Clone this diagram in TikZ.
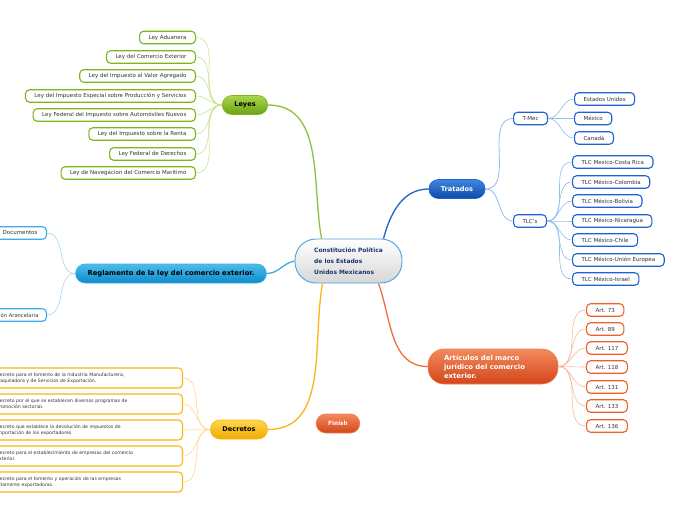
\documentclass[tikz,border=0pt]{standalone}
\usepackage{fontspec}
\setmainfont{DejaVu Sans}
\usepackage{xcolor}
\usetikzlibrary{positioning, calc}

% colours of the branches
\definecolor{leafText}{HTML}{333333}
\definecolor{coreText}{HTML}{1E3566}
\definecolor{coreLine}{HTML}{4DA2DC}
\definecolor{greenTop}{HTML}{A9D54B}
\definecolor{greenBot}{HTML}{6CA212}
\definecolor{greenLine}{HTML}{7DB51E}
\definecolor{greenLink}{HTML}{C9E495}
\definecolor{blueTop}{HTML}{3F85E0}
\definecolor{blueBot}{HTML}{0B4DA8}
\definecolor{blueLine}{HTML}{1F62D0}
\definecolor{blueLink}{HTML}{93BCF0}
\definecolor{redTop}{HTML}{F38A5C}
\definecolor{redBot}{HTML}{D2461A}
\definecolor{redLine}{HTML}{F05F28}
\definecolor{redLink}{HTML}{F9B89D}
\definecolor{cyanTop}{HTML}{4BBDEB}
\definecolor{cyanBot}{HTML}{0E8ACB}
\definecolor{cyanLine}{HTML}{3AAEE6}
\definecolor{cyanLink}{HTML}{9FD8F3}
\definecolor{yellowTop}{HTML}{FFD64F}
\definecolor{yellowBot}{HTML}{F2A900}
\definecolor{yellowLine}{HTML}{FBB515}
\definecolor{yellowLink}{HTML}{FDDA8C}

\tikzset{
    leaf/.style={draw, fill=white, rounded corners=4pt, line width=1.1pt,
        inner xsep=9pt, inner ysep=0pt, minimum height=12.5pt,
        text=leafText, font=\fontsize{5.5}{6.5}\selectfont},
    decreto/.style={leaf, draw=yellowLine, anchor=east, minimum height=20pt,
        text width=177pt, align=left, font=\fontsize{4.6}{6.2}\selectfont},
    branch/.style={draw, rounded corners=9.5pt, line width=0.6pt,
        minimum height=19pt, inner xsep=12pt, inner ysep=0pt,
        font=\bfseries\fontsize{6.6}{8}\selectfont},
    link/.style={line width=0.6pt},
    mainlink/.style={line width=1.3pt}
}

\begin{document}
\begin{tikzpicture}[x=1pt, y=1pt]

    % Page frame
    \fill[white] (0,0) rectangle (696,-520);
    \useasboundingbox (0,0) rectangle (696,-520);
    \clip (0,0) rectangle (696,-520);

    % Central topic
    \node[draw=coreLine, line width=0.9pt, rounded corners=21pt,
          top color=white, bottom color=black!16,
          minimum width=107pt, minimum height=44pt,
          align=left, text=coreText,
          font=\bfseries\fontsize{5.9}{11}\selectfont] (cpeum) at (348.5,-261)
          {Constitución Política\\de los Estados\\Unidos Mexicanos};

    % Leyes branch
    \node[branch, draw=greenLine, top color=greenTop, bottom color=greenBot,
          text=black] (leyes) at (245,-105) {Leyes};
    \node[leaf, draw=greenLine, anchor=east] (ley1) at (196,-37.5) {Ley Aduanera};
    \node[leaf, draw=greenLine, anchor=east] (ley2) at (196,-57) {Ley del Comercio Exterior};
    \node[leaf, draw=greenLine, anchor=east] (ley3) at (196,-76) {Ley del Impuesto al Valor Agregado};
    \node[leaf, draw=greenLine, anchor=east] (ley4) at (196,-96) {Ley del Impuesto Especial sobre Producción y Servicios};
    \node[leaf, draw=greenLine, anchor=east] (ley5) at (196,-115) {Ley Federal del Impuesto sobre Automóviles Nuevos};
    \node[leaf, draw=greenLine, anchor=east] (ley6) at (196,-134) {Ley del Impuesto sobre la Renta};
    \node[leaf, draw=greenLine, anchor=east] (ley7) at (196,-154) {Ley Federal de Derechos};
    \node[leaf, draw=greenLine, anchor=east] (ley8) at (196,-173) {Ley de Navegacion del Comercio Maritimo};

    % Tratados branch
    \node[branch, draw=blueLine, top color=blueTop, bottom color=blueBot,
          text=white] (tratados) at (457,-189) {Tratados};
    \node[leaf, draw=blueLine, anchor=west] (tmec) at (513,-118.5) {T-Mec};
    \node[leaf, draw=blueLine, anchor=west] (tlcs) at (513,-221) {TLC's};
    \node[leaf, draw=blueLine, anchor=west] (usa) at (574,-99) {Estados Unidos};
    \node[leaf, draw=blueLine, anchor=west] (mex) at (574,-118.5) {México};
    \node[leaf, draw=blueLine, anchor=west] (can) at (574,-138) {Canadá};
    \node[leaf, draw=blueLine, anchor=west] (tlc1) at (572,-162) {TLC Mexico-Costa Rica};
    \node[leaf, draw=blueLine, anchor=west] (tlc2) at (572,-182) {TLC México-Colombia};
    \node[leaf, draw=blueLine, anchor=west] (tlc3) at (572,-201) {TLC México-Bolivia};
    \node[leaf, draw=blueLine, anchor=west] (tlc4) at (572,-221) {TLC México-Nicaragua};
    \node[leaf, draw=blueLine, anchor=west] (tlc5) at (572,-240) {TLC México-Chile};
    \node[leaf, draw=blueLine, anchor=west] (tlc6) at (572,-260) {TLC México-Unión Europea};
    \node[leaf, draw=blueLine, anchor=west] (tlc7) at (572,-279) {TLC México-Israel};

    % Articulos branch
    \node[draw=redLine!80, line width=0.6pt, rounded corners=16pt,
          top color=redTop, bottom color=redBot, text=white,
          minimum height=35pt, inner xsep=16pt, inner ysep=0pt,
          text width=98pt, align=left,
          font=\bfseries\fontsize{6.9}{8.8}\selectfont] (articulos) at (493,-366.5)
          {Artículos del marco\\jurídico del comercio\\exterior.};
    \node[leaf, draw=redLine, anchor=west] (art1) at (586,-310) {Art. 73};
    \node[leaf, draw=redLine, anchor=west] (art2) at (586,-329) {Art. 89};
    \node[leaf, draw=redLine, anchor=west] (art3) at (586,-348) {Art. 117};
    \node[leaf, draw=redLine, anchor=west] (art4) at (586,-367) {Art. 118};
    \node[leaf, draw=redLine, anchor=west] (art5) at (586,-387) {Art. 131};
    \node[leaf, draw=redLine, anchor=west] (art6) at (586,-406) {Art. 133};
    \node[leaf, draw=redLine, anchor=west] (art7) at (586,-426) {Art. 136};

    % Reglamento branch
    \node[branch, draw=cyanLine, top color=cyanTop, bottom color=cyanBot,
          text=black, font=\bfseries\fontsize{6.8}{8}\selectfont] (reglamento) at (171,-273.5)
          {Reglamento de la ley del comercio exterior.};
    \node[leaf, draw=cyanLine, anchor=east] (docs) at (47,-233) {Documentos};
    \node[leaf, draw=cyanLine, anchor=east, inner xsep=8pt,
          font=\fontsize{5.2}{6.5}\selectfont] (aranc) at (47,-315) {ón Arancelaria};

    % Decretos branch
    \node[branch, draw=yellowLine, top color=yellowTop, bottom color=yellowBot,
          text=black] (decretos) at (239,-429.5) {Decretos};
    \node[decreto] (dec1) at (183,-378)
          {Decreto para el fomento de la Industria Manufacturera,\\Maquiladora y de Servicios de Exportación.};
    \node[decreto] (dec2) at (183,-404)
          {Decreto por el que se establecen diversos programas de\\promoción sectorial.};
    \node[decreto] (dec3) at (183,-430)
          {Decreto que establece la devolución de impuestos de\\importación de los exportadores.};
    \node[decreto] (dec4) at (183,-456)
          {Decreto para el establecimiento de empresas del comercio\\exterior.};
    \node[decreto] (dec5) at (183,-482)
          {Decreto para el fomento y operación de las empresas\\altamente exportadoras.};

    % Floating topic
    \node[branch, draw=redLine!80, top color=redTop, bottom color=redBot,
          text=white, font=\bfseries\fontsize{5.8}{8}\selectfont] (finish) at (338,-423.5) {Finish};

    % Main connectors from the central topic
    \draw[mainlink, greenLine!85] (leyes.east) to[out=0, in=100] ($(cpeum.north)+(-27,0)$);
    \draw[mainlink, blueLine] ($(cpeum.north)+(35,0)$) to[out=75, in=180] (tratados.west);
    \draw[mainlink, redLine!90] ($(cpeum.south)+(30,0)$) to[out=-70, in=180] (articulos.west);
    \draw[mainlink, cyanLine] (cpeum.west) to[out=190, in=0] (reglamento.east);
    \draw[mainlink, yellowLine] ($(cpeum.south)+(-26,0)$) to[out=-100, in=0] (decretos.east);

    % Leyes connectors
    \draw[link, greenLink] (leyes.west) to[out=180, in=0] (ley1.east);
    \draw[link, greenLink] (leyes.west) to[out=180, in=0] (ley2.east);
    \draw[link, greenLink] (leyes.west) to[out=180, in=0] (ley3.east);
    \draw[link, greenLink] (leyes.west) to[out=180, in=0] (ley4.east);
    \draw[link, greenLink] (leyes.west) to[out=180, in=0] (ley5.east);
    \draw[link, greenLink] (leyes.west) to[out=180, in=0] (ley6.east);
    \draw[link, greenLink] (leyes.west) to[out=180, in=0] (ley7.east);
    \draw[link, greenLink] (leyes.west) to[out=180, in=0] (ley8.east);

    % Tratados connectors
    \draw[link, blueLink, line width=0.8pt] (tratados.east) to[out=0, in=180] (tmec.west);
    \draw[link, blueLink, line width=0.8pt] (tratados.east) to[out=0, in=180] (tlcs.west);
    \draw[link, blueLink] (tmec.east) to[out=0, in=180] (usa.west);
    \draw[link, blueLink] (tmec.east) to[out=0, in=180] (mex.west);
    \draw[link, blueLink] (tmec.east) to[out=0, in=180] (can.west);
    \draw[link, blueLink] (tlcs.east) to[out=0, in=180] (tlc1.west);
    \draw[link, blueLink] (tlcs.east) to[out=0, in=180] (tlc2.west);
    \draw[link, blueLink] (tlcs.east) to[out=0, in=180] (tlc3.west);
    \draw[link, blueLink] (tlcs.east) to[out=0, in=180] (tlc4.west);
    \draw[link, blueLink] (tlcs.east) to[out=0, in=180] (tlc5.west);
    \draw[link, blueLink] (tlcs.east) to[out=0, in=180] (tlc6.west);
    \draw[link, blueLink] (tlcs.east) to[out=0, in=180] (tlc7.west);

    % Articulos connectors
    \draw[link, redLink] (articulos.east) to[out=0, in=180] (art1.west);
    \draw[link, redLink] (articulos.east) to[out=0, in=180] (art2.west);
    \draw[link, redLink] (articulos.east) to[out=0, in=180] (art3.west);
    \draw[link, redLink] (articulos.east) to[out=0, in=180] (art4.west);
    \draw[link, redLink] (articulos.east) to[out=0, in=180] (art5.west);
    \draw[link, redLink] (articulos.east) to[out=0, in=180] (art6.west);
    \draw[link, redLink] (articulos.east) to[out=0, in=180] (art7.west);

    % Reglamento connectors
    \draw[link, cyanLink] (reglamento.west) to[out=180, in=0] (docs.east);
    \draw[link, cyanLink] (reglamento.west) to[out=180, in=0] (aranc.east);

    % Decretos connectors
    \draw[link, yellowLink] (decretos.west) to[out=180, in=0] (dec1.east);
    \draw[link, yellowLink] (decretos.west) to[out=180, in=0] (dec2.east);
    \draw[link, yellowLink] (decretos.west) to[out=180, in=0] (dec3.east);
    \draw[link, yellowLink] (decretos.west) to[out=180, in=0] (dec4.east);
    \draw[link, yellowLink] (decretos.west) to[out=180, in=0] (dec5.east);

\end{tikzpicture}
\end{document}
